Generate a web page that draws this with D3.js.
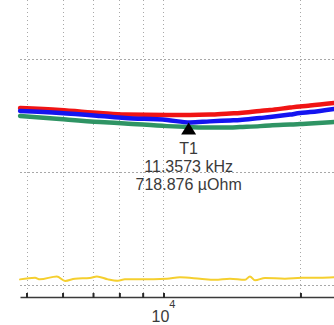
<!DOCTYPE html>
<html>
<head>
<meta charset="utf-8">
<script src="https://cdn.jsdelivr.net/npm/d3@7"></script>
<style>
	body { margin:0; background:#fff; }
	.grid_h { stroke:#a8a8a8; stroke-width:1; stroke-dasharray:2 2; fill:none; }
	.grid_v { stroke:#a8a8a8; stroke-width:1; stroke-dasharray:1 3; fill:none; }
	.trace { fill:none; stroke-linejoin:round; stroke-linecap:round; }
	.lbl { font-family:"Liberation Sans", Arial, sans-serif; fill:#3a3a3a; }
</style>
</head>
<body>
<div class="c_chart"></div>
<script>

/*DATA
------------------------------------------------------
------------------------------------------------------
*/

//fréquences (Hz) communes aux traces 1-3
const freq = [4840, 5920, 7250, 8230, 10180, 11440, 12650, 14000, 14730, 16300, 17140, 18970, 19950, 20990, 23700];
//impédance (µOhm)
const trRed   = [783, 774, 761, 754, 752, 752, 754, 759, 761, 770, 774, 785, 790, 794, 805];
const trBlue  = [770, 761, 748, 739, 730, 719, 724, 728, 730, 739, 743, 754, 761, 765, 779];
const trGreen = [748, 734, 721, 715, 703, 699, 697, 697, 699, 703, 706, 710, 712, 715, 721];

const freqYel = [4840, 5220, 5350, 5830, 6080, 6390, 6890, 7140, 7550, 7940, 8230, 8880, 10180, 10870, 12030, 12980, 14000, 15110, 15490, 15890, 16720, 18490, 20160, 22080, 23700];
const trYellow = [25, 32, 25, 38, 18, 28, 31, 38, 25, 19, 25, 25, 28, 34, 28, 23, 28, 23, 38, 21, 31, 28, 32, 32, 34];

//marqueur
const markerFreq = 11357.3;
const markerVal = 718.876;
const markerTxt = ["T1", "11.3573 kHz", "718.876 µOhm"];

//axes
const xTicks = [5000, 6000, 7000, 8000, 9000, 10000, 20000];
const yGrid = [0, 500, 1000];

/*SVG, FORMAT
------------------------------------------------------
------------------------------------------------------
*/

let width = 334;
let height = 325;

let svg = d3.select(".c_chart")
	.append("svg")
	.attr("width", width)
	.attr("height", height);

let x = d3.scaleLog()
	.domain([4838, 23700])
	.range([20, 334]);

let y = d3.scaleLinear()
	.domain([-53, 1261])
	.range([297, 0]);

/*GRILLE
------------------------------------------------------
------------------------------------------------------
*/

svg.selectAll(".grid_v")
	.data(xTicks)
	.enter()
	.append("line")
	.attr("class", "grid_v")
	.attr("x1", d => Math.round(x(d)) + 0.5)
	.attr("x2", d => Math.round(x(d)) + 0.5)
	.attr("y1", 0)
	.attr("y2", y(-53));

svg.selectAll(".grid_h")
	.data(yGrid)
	.enter()
	.append("line")
	.attr("class", "grid_h")
	.attr("x1", x.range()[0])
	.attr("x2", x.range()[1])
	.attr("y1", d => Math.round(y(d)) + 0.5)
	.attr("y2", d => Math.round(y(d)) + 0.5);

/*TRACES
------------------------------------------------------
------------------------------------------------------
*/

let line = d3.line()
	.x(d => x(d[0]))
	.y(d => y(d[1]))
	.curve(d3.curveMonotoneX);

let traces = [
	{f: freqYel, v: trYellow, c: "#f5cf2f", w: 2},
	{f: freq, v: trGreen, c: "#2f9464", w: 4.5},
	{f: freq, v: trRed, c: "#f01414", w: 4.5},
	{f: freq, v: trBlue, c: "#1414f0", w: 4.5}
];

svg.selectAll(".trace")
	.data(traces)
	.enter()
	.append("path")
	.attr("class", "trace")
	.attr("d", t => line(d3.zip(t.f, t.v)))
	.attr("stroke", t => t.c)
	.attr("stroke-width", t => t.w);

/*AXE X
------------------------------------------------------
------------------------------------------------------
*/

let xAxis = svg.append("g")
	.attr("transform", `translate(0,${y(-53)})`)
	.call(d3.axisBottom(x)
		.tickValues(xTicks)
		.tickSizeInner(-4)
		.tickSizeOuter(0)
		.tickFormat(""));

xAxis.select(".domain")
	.attr("stroke", "#3a3a3a")
	.attr("stroke-width", 1.5);

xAxis.selectAll(".tick line")
	.attr("stroke", "#2a2a2a")
	.attr("stroke-width", 2)
	.attr("y1", 1);

//libellé 10^4
let lbl = svg.append("text")
	.attr("class", "lbl")
	.attr("x", x(10000))
	.attr("y", 322)
	.attr("text-anchor", "middle")
	.style("font-size", "16px");
lbl.append("tspan").text("10");
lbl.append("tspan")
	.attr("dy", -14)
	.style("font-size", "11px")
	.text("4");

/*MARQUEUR
------------------------------------------------------
------------------------------------------------------
*/

let mx = x(markerFreq);
let my = y(markerVal);

svg.append("path")
	.attr("d", `M${mx},${my} L${mx + 7.5},${my + 12} L${mx - 7.5},${my + 12} Z`)
	.attr("fill", "#000");

svg.selectAll(".mk")
	.data(markerTxt)
	.enter()
	.append("text")
	.attr("class", "lbl mk")
	.attr("x", mx)
	.attr("y", (d, i) => [154, 172, 190][i])
	.attr("text-anchor", "middle")
	.style("font-size", "16px")
	.text(d => d);

</script>
</body>
</html>
